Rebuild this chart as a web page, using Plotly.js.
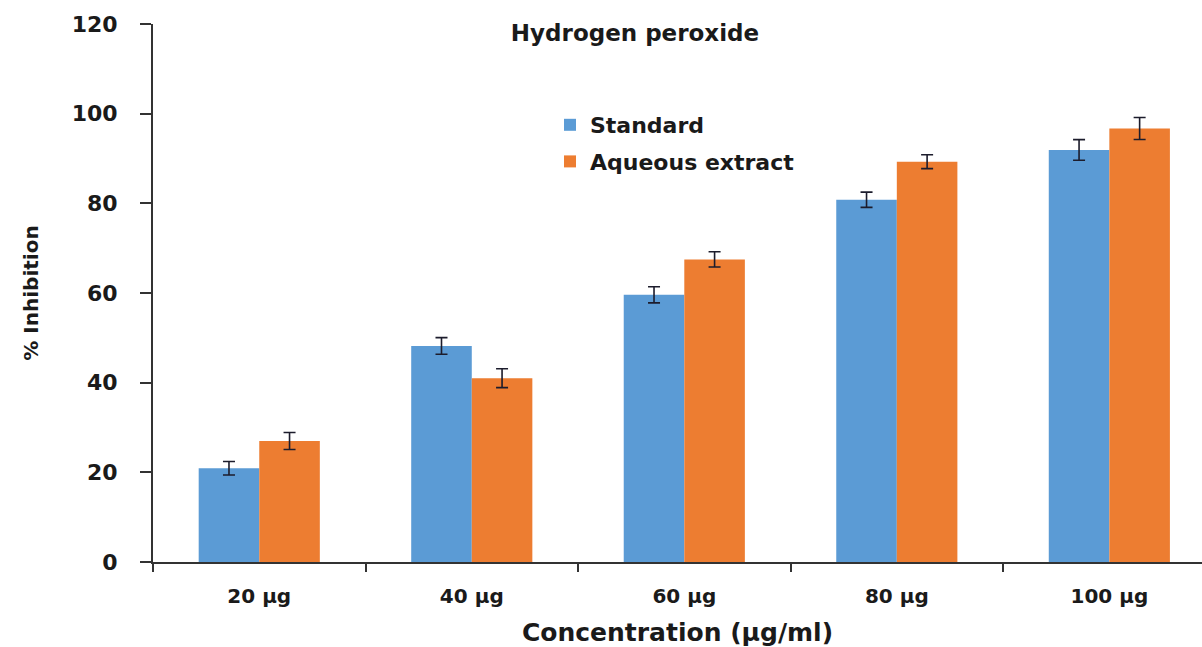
<!DOCTYPE html>
<html>
<head>
<meta charset="utf-8">
<script src="https://cdn.plot.ly/plotly-3.0.1.min.js"></script>
<style>
  html, body { margin: 0; padding: 0; background: #fff; }
  #chart { width: 1202px; height: 647px; }
</style>
</head>
<body>
<div id="chart"></div>
<script>
  const categories = ["20 µg", "40 µg", "60 µg", "80 µg", "100 µg"];
  const standard = [20.9, 48.2, 59.6, 80.8, 91.9];
  const standardErr = [1.5, 1.85, 1.8, 1.7, 2.3];
  const aqueous = [27.0, 41.0, 67.5, 89.3, 96.7];
  const aqueousErr = [1.9, 2.1, 1.7, 1.55, 2.45];

  const font = "DejaVu Sans, Verdana, sans-serif";
  const ink = "#1a1a1a";

  function barTrace(name, values, errs, color, group) {
    return {
      type: "bar",
      name,
      x: categories,
      y: values,
      legendgroup: group,
      marker: { color },
      error_y: { type: "data", array: errs, visible: true, color: "#1c1c2c", thickness: 1.6, width: 6 },
      hoverinfo: "x+y",
    };
  }

  const traces = [
    barTrace("Standard", standard, standardErr, "#5B9BD5", "a"),
    barTrace("Aqueous extract", aqueous, aqueousErr, "#ED7D31", "b"),
  ];

  const layout = {
    width: 1202,
    height: 647,
    margin: { l: 153, r: 0, t: 24, b: 85, autoexpand: false },
    paper_bgcolor: "#fff",
    plot_bgcolor: "#fff",
    font: { family: font, color: ink },
    barmode: "group",
    bargap: 0.43,
    bargroupgap: 0,
    title: {
      text: "Hydrogen peroxide",
      font: { family: font, size: 23, weight: "bold", color: ink },
      xref: "container", yref: "container",
      x: 635 / 1202, y: 1 - 33 / 647,
      xanchor: "center", yanchor: "middle",
    },
    xaxis: {
      type: "category",
      range: [-0.5, 4.436],
      showline: true, linecolor: "#333", linewidth: 2,
      ticks: "outside", tickson: "boundaries", ticklen: 8, tickcolor: "#333", tickwidth: 2,
      ticklabelstandoff: 15,
      tickfont: { family: font, size: 20, weight: "bold", color: ink },
      showgrid: false, zeroline: false,
      title: {
        text: "Concentration (µg/ml)",
        font: { family: font, size: 25, weight: "bold", color: ink },
        standoff: 18,
      },
    },
    yaxis: {
      range: [0, 120],
      dtick: 20,
      showline: true, linecolor: "#333", linewidth: 2,
      ticks: "outside", ticklen: 11, tickcolor: "#333", tickwidth: 2,
      ticklabelstandoff: 18,
      tickfont: { family: font, size: 22, weight: "bold", color: ink },
      showgrid: false, zeroline: false,
      title: {
        text: "% Inhibition",
        font: { family: font, size: 20, weight: "bold", color: ink },
        standoff: 28,
      },
    },
    legend: {
      x: (550 - 153) / 1049, y: 1 - (104 - 24) / 538,
      xanchor: "left", yanchor: "top",
      bgcolor: "rgba(0,0,0,0)",
      tracegroupgap: 5,
      font: { family: font, size: 22, weight: "bold", color: ink },
    },
    showlegend: true,
  };

  Plotly.newPlot("chart", traces, layout, { displayModeBar: false, staticPlot: true });
</script>
</body>
</html>
